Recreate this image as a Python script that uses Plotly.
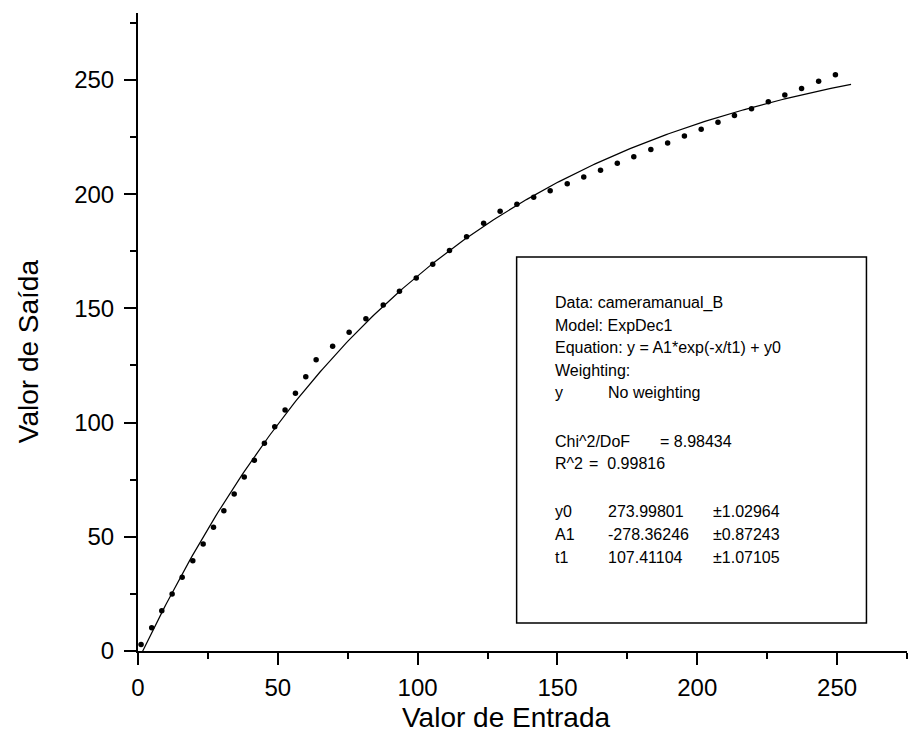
import numpy as np
import plotly.graph_objects as go

# Measured data points (Valor de Entrada, Valor de Saída)
x_data = [1.1, 4.9, 8.5, 12.2, 15.8, 19.6, 23.3, 27.0, 30.7, 34.4, 38.0, 41.6, 45.2,
          48.9, 52.6, 56.3, 60.0, 63.7, 69.6, 75.5, 81.5, 87.7, 93.5, 99.5, 105.4,
          111.4, 117.5, 123.6, 129.5, 135.5, 141.5, 147.4, 153.5, 159.4, 165.4,
          171.4, 177.3, 183.4, 189.4, 195.4, 201.4, 207.4, 213.3, 219.4, 225.4,
          231.3, 237.3, 243.4, 249.4]
y_data = [2.9, 10.2, 17.6, 25.0, 32.3, 39.5, 46.8, 54.2, 61.4, 68.7, 76.2, 83.5, 90.9,
          98.2, 105.5, 112.8, 120.1, 127.5, 133.4, 139.5, 145.4, 151.5, 157.5, 163.3,
          169.3, 175.3, 181.3, 187.3, 192.5, 195.6, 198.6, 201.5, 204.5, 207.5, 210.5,
          213.5, 216.4, 219.5, 222.4, 225.5, 228.4, 231.5, 234.4, 237.4, 240.4, 243.4,
          246.2, 249.4, 252.3]

# Fit parameters as reported in the chart (ExpDec1 model)
fit_y0 = 273.99801
fit_A1 = -278.36246
fit_t1 = 107.41104
fit_x_range = [1.6, 255.0]

x_ticks = [0, 50, 100, 150, 200, 250]
y_ticks = [0, 50, 100, 150, 200, 250]

fit_x = np.linspace(fit_x_range[0], fit_x_range[1], 300)
fit_y = fit_y0 + fit_A1 * np.exp(-fit_x / fit_t1)

FONT = "Liberation Sans, Arial, sans-serif"

fig = go.Figure()
fig.add_trace(go.Scatter(x=fit_x, y=fit_y, mode="lines",
                         line=dict(color="black", width=1.2), hoverinfo="skip"))
fig.add_trace(go.Scatter(x=x_data, y=y_data, mode="markers",
                         marker=dict(color="black", size=5.5, line=dict(width=0))))

axis_common = dict(
    showgrid=False, zeroline=False, showline=True, linecolor="black", linewidth=2,
    ticks="outside", ticklen=12, tickwidth=2, tickcolor="black",
    tickfont=dict(family=FONT, size=24, color="black"),
    minor=dict(ticks="outside", ticklen=6, tickwidth=2, tickcolor="black", dtick=25),
)

fig.update_layout(
    width=910, height=740,
    margin=dict(l=138, r=3, t=13, b=89),
    plot_bgcolor="white", paper_bgcolor="white",
    showlegend=False,
    xaxis=dict(range=[0, 275], tickvals=x_ticks, ticklabelstandoff=2, **axis_common),
    yaxis=dict(range=[0, 279.3], tickvals=y_ticks, ticklabelstandoff=5, **axis_common),
)

# Axis titles
fig.add_annotation(text="Valor de Entrada", xref="paper", yref="paper",
                   x=0.478, y=-0.105, xanchor="center", yanchor="middle", showarrow=False,
                   font=dict(family=FONT, size=28, color="black"))
fig.add_annotation(text="Valor de Saída", xref="paper", yref="paper",
                   x=-0.143, y=0.47, xanchor="center", yanchor="middle", showarrow=False,
                   textangle=-90, font=dict(family=FONT, size=28, color="black"))

# Results box
fig.add_shape(type="rect", xref="x", yref="y", x0=135.4, x1=260.5, y0=12.3, y1=172.5,
              line=dict(color="black", width=1.5), fillcolor="white", layer="above")

def px_to_x(px):
    return (px - 138.5) / 2.796

def px_to_y(py):
    return (651 - py) / 2.284

rows = [
    (303, [(553, "Data: cameramanual_B")]),
    (326, [(553, "Model: ExpDec1")]),
    (348, [(553, "Equation: y = A1*exp(-x/t1) + y0")]),
    (371, [(553, "Weighting:")]),
    (393, [(553, "y"), (606, "No weighting")]),
    (442, [(553, "Chi^2/DoF"), (658, "= 8.98434")]),
    (464, [(553, "R^2"), (587, "=  0.99816")]),
    (512, [(553, "y0"), (606, "273.99801"), (711, "±1.02964")]),
    (535, [(553, "A1"), (606, "-278.36246"), (711, "±0.87243")]),
    (558, [(553, "t1"), (606, "107.41104"), (711, "±1.07105")]),
]
for py, cols in rows:
    for px, txt in cols:
        fig.add_annotation(text=txt, xref="x", yref="y", x=px_to_x(px), y=px_to_y(py),
                           xanchor="left", yanchor="middle", showarrow=False,
                           font=dict(family=FONT, size=16, color="black"))

fig.write_html("out.html")
